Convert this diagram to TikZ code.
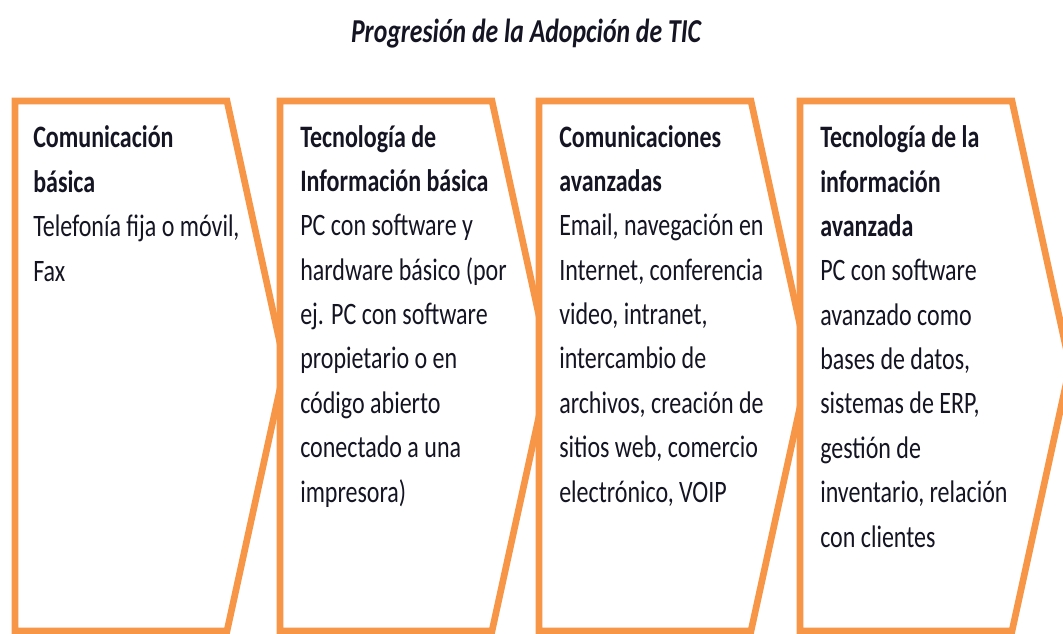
\documentclass[tikz,border=0pt]{standalone}
\usepackage{fontspec}
\setmainfont{Carlito}
\definecolor{ticorange}{RGB}{247,150,70}
\definecolor{tictext}{RGB}{20,20,35}

\begin{document}
\begin{tikzpicture}[x=0.75pt, y=-0.75pt,
  stage/.style={draw=ticorange, line width=5pt, fill=white, line join=miter},
  txt/.style={anchor=base west, inner sep=0pt, align=left, yscale=1.3, text=tictext,
    font=\fontsize{18}{25.6}\selectfont},
  heading/.style={inner sep=0pt, yscale=1.3, text=tictext,
    font=\fontsize{19.3}{22}\selectfont\bfseries\itshape}
]
\clip (0,0) rectangle (1063,633);

\foreach \x in {15,280,539,800}
  \draw[stage] (\x,101) -- (\x+212,101) -- (\x+270,366) -- (\x+212,631) -- (\x,631) -- cycle;

\node[heading] (title) at (526,34) {Progresión de la Adopción de TIC};

% texts are placed at the baseline of their last line
\node[txt] (basica) at (33,281)
  {\textbf{Comunicación}\\\textbf{básica}\\Telefonía fija o móvil,\\Fax};
\node[txt] (tibasica) at (300,502)
  {\textbf{Tecnología de}\\\textbf{Información básica}\\PC con software y\\hardware básico (por\\ej. PC con software\\propietario o en\\código abierto\\conectado a una\\impresora)};
\node[txt] (comav) at (559,502)
  {\textbf{Comunicaciones}\\\textbf{avanzadas}\\Email, navegación en\\Internet, conferencia\\video, intranet,\\intercambio de\\archivos, creación de\\sitios web, comercio\\electrónico, VOIP};
\node[txt] (tiav) at (820,547)
  {\textbf{Tecnología de la}\\\textbf{información}\\\textbf{avanzada}\\PC con software\\avanzado como\\bases de datos,\\sistemas de ERP,\\gestión de\\inventario, relación\\con clientes};

\end{tikzpicture}
\end{document}
